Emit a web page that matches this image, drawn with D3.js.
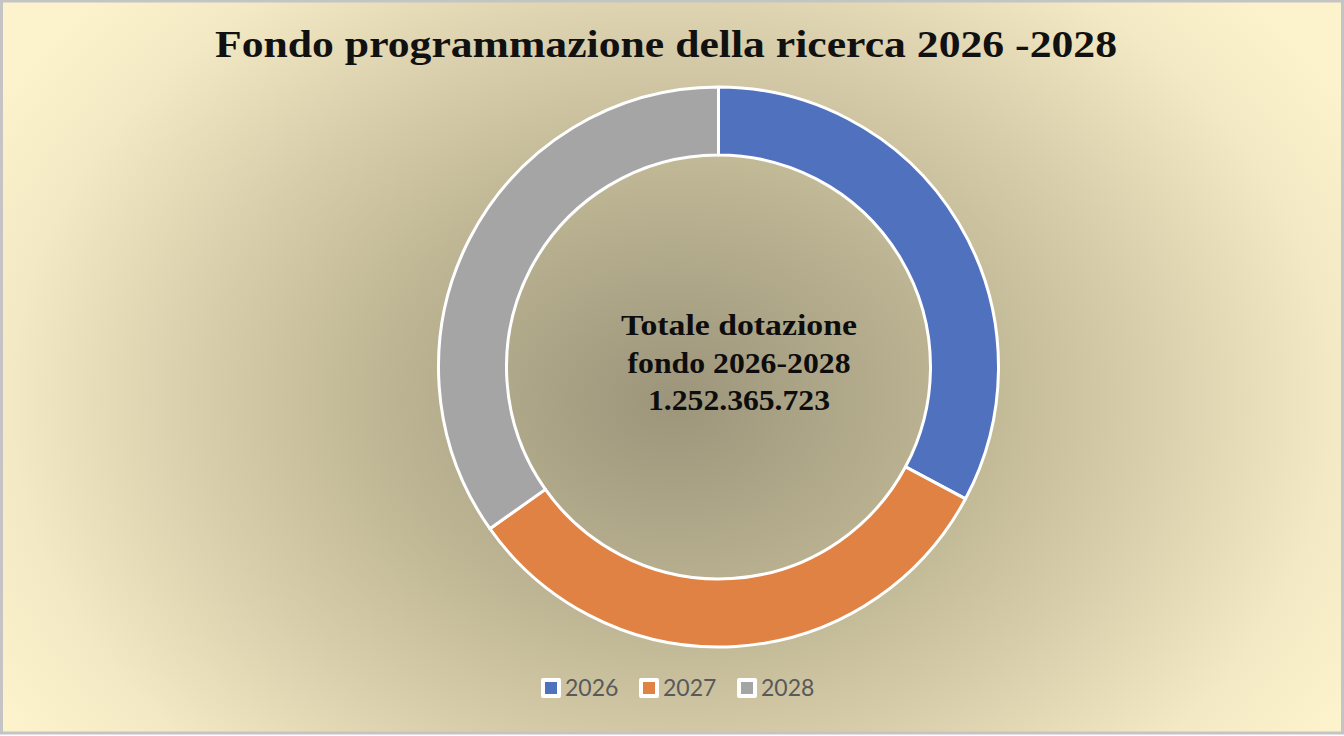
<!DOCTYPE html>
<html>
<head>
<meta charset="utf-8">
<script src="https://cdn.jsdelivr.net/npm/d3@7"></script>
<style>
  body { margin: 0; background: #ffffff; }
</style>
</head>
<body>
<div id="chart"></div>
<script>
// Data
const years = ["2026", "2027", "2028"];
const amounts = [410800000, 405800000, 435765723];
const colors = ["#4f71be", "#e08243", "#a5a5a5"];
const title = "Fondo programmazione della ricerca 2026 -2028";
const centerLines = ["Totale dotazione", "fondo 2026-2028", "1.252.365.723"];
const centerWidths = [236, 223, 182];

const width = 1344, height = 736;

const svg = d3.select("#chart")
    .append("svg")
    .attr("width", width)
    .attr("height", height);

// Background gradient (elliptical, darkest near the middle)
const defs = svg.append("defs");
const grad = defs.append("radialGradient")
    .attr("id", "bg")
    .attr("gradientUnits", "userSpaceOnUse")
    .attr("cx", 0).attr("cy", 0).attr("r", 780)
    .attr("gradientTransform", "translate(672,400) scale(1,0.77)");
[
    [0, "#9c957b"],
    [0.37, "#bdb593"],
    [0.6, "#d8cdaa"],
    [0.85, "#f3e9c4"],
    [1, "#fcf3cd"]
].forEach(s => grad.append("stop").attr("offset", s[0]).attr("stop-color", s[1]));

svg.append("rect")
    .attr("x", 1.5).attr("y", 1)
    .attr("width", width - 3).attr("height", height - 4)
    .attr("fill", "url(#bg)")
    .attr("stroke", "#c4c4c4")
    .attr("stroke-width", 3);

// Title
svg.append("text")
    .attr("x", 666)
    .attr("y", 57)
    .attr("text-anchor", "middle")
    .attr("font-family", "'Liberation Serif', serif")
    .attr("font-weight", "bold")
    .attr("font-size", "37px")
    .attr("fill", "#111111")
    .attr("textLength", 902)
    .attr("lengthAdjust", "spacingAndGlyphs")
    .text(title);

// Donut
const cx = 718.5, cy = 367;
const outerR = 280, innerR = 212;

const pie = d3.pie().sort(null).value(d => d);
const arc = d3.arc().innerRadius(innerR).outerRadius(outerR);

const g = svg.append("g").attr("transform", `translate(${cx},${cy})`);

g.selectAll("path")
    .data(pie(amounts))
    .enter().append("path")
    .attr("d", arc)
    .attr("fill", (d, i) => colors[i])
    .attr("stroke", "#ffffff")
    .attr("stroke-width", 3)
    .attr("stroke-linejoin", "round");

// Center label
svg.selectAll(".center-label")
    .data(centerLines)
    .enter().append("text")
    .attr("class", "center-label")
    .attr("x", 739)
    .attr("y", (d, i) => 335 + i * 37.5)
    .attr("text-anchor", "middle")
    .attr("font-family", "'Liberation Serif', serif")
    .attr("font-weight", "bold")
    .attr("font-size", "30px")
    .attr("fill", "#0d0d0d")
    .attr("textLength", (d, i) => centerWidths[i])
    .attr("lengthAdjust", "spacingAndGlyphs")
    .text(d => d);

// Legend
const legend = svg.append("g").attr("transform", "translate(541,678)");
const item = legend.selectAll("g")
    .data(years)
    .enter().append("g")
    .attr("transform", (d, i) => `translate(${i * 98},0)`);

item.append("rect")
    .attr("x", 0).attr("y", 0)
    .attr("width", 20).attr("height", 20)
    .attr("rx", 2)
    .attr("fill", "#ffffff");

item.append("rect")
    .attr("x", 4).attr("y", 4)
    .attr("width", 12).attr("height", 12)
    .attr("fill", (d, i) => colors[i]);

item.append("text")
    .attr("x", 24)
    .attr("y", 18)
    .attr("font-family", "Lato, 'Open Sans', sans-serif")
    .attr("font-size", "23px")
    .attr("fill", "#595959")
    .text(d => d);
</script>
</body>
</html>
